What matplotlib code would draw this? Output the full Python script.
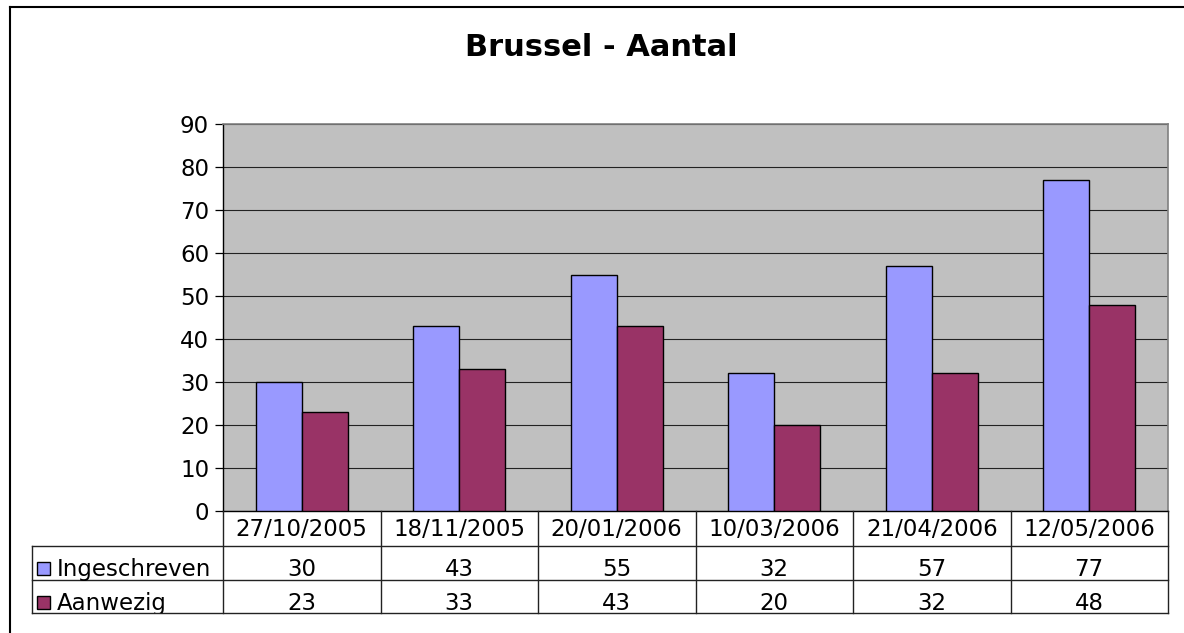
import matplotlib.pyplot as plt
from matplotlib.patches import Rectangle
from matplotlib.lines import Line2D
from matplotlib.transforms import blended_transform_factory, Bbox
import numpy as np

dates = ['27/10/2005', '18/11/2005', '20/01/2006', '10/03/2006', '21/04/2006', '12/05/2006']
ingeschreven = [30, 43, 55, 32, 57, 77]
aanwezig = [23, 33, 43, 20, 32, 48]
series_names = ['Ingeschreven', 'Aanwezig']
yticks = [0, 10, 20, 30, 40, 50, 60, 70, 80, 90]

blue = '#9999FF'
purple = '#993366'
fs = 16.5

W, H = 1184, 633
fig = plt.figure(figsize=(W / 100, H / 100), dpi=100)
fig.patch.set_facecolor('white')


def fy(py):
    # pixel row (from top) -> figure fraction
    return 1 - py / H


def fx(px):
    return px / W


left, right, top, bottom = 223, 1168, 124, 511
ax = fig.add_axes([fx(left), fy(bottom), (right - left) / W, (bottom - top) / H])
ax.set_facecolor('#C0C0C0')

x = np.arange(len(dates))
bw = 0.292
ax.bar(x - bw / 2, ingeschreven, bw, color=blue, edgecolor='black', linewidth=1.0, zorder=3)
ax.bar(x + bw / 2, aanwezig, bw, color=purple, edgecolor='black', linewidth=1.0, zorder=3)

ax.set_xlim(-0.5, len(dates) - 0.5)
ax.set_ylim(0, 90)
ax.set_yticks(yticks)
ax.set_yticklabels([str(v) for v in yticks], fontsize=fs)
ax.set_xticks([])
ax.yaxis.grid(True, color='#222222', linewidth=0.8, zorder=1)
ax.set_axisbelow(True)
ax.tick_params(axis='y', length=6, width=0.9, direction='out', pad=4, colors='black')
for side in ['top', 'right']:
    ax.spines[side].set_color('#808080')
    ax.spines[side].set_linewidth(1.2)
ax.spines['left'].set_color('black')
ax.spines['bottom'].set_color('black')
ax.spines['left'].set_linewidth(1.0)
ax.spines['bottom'].set_linewidth(1.0)

# data table below the plot
tr = blended_transform_factory(ax.transData, fig.transFigure)
row_y = [511, 546, 580, 613]
baselines = [536, 576, 610]
lc = '#222222'
for k in range(len(dates) + 1):
    fig.add_artist(Line2D([k - 0.5, k - 0.5], [fy(row_y[0]), fy(row_y[3])],
                          transform=tr, color=lc, linewidth=1.0))
fig.add_artist(Line2D([fx(32), fx(32)], [fy(row_y[1]), fy(row_y[3])], color=lc, linewidth=1.0))
for ry in row_y[1:]:
    fig.add_artist(Line2D([fx(32), fx(right)], [fy(ry), fy(ry)], color=lc, linewidth=1.0))

clip = Bbox([[0, H - row_y[3]], [W, H]])
for i, d in enumerate(dates):
    fig.text(i, fy(baselines[0]), d, transform=tr, ha='center', va='baseline', fontsize=fs)
    fig.text(i, fy(baselines[1]), str(ingeschreven[i]), transform=tr,
             ha='center', va='baseline', fontsize=fs)
    fig.text(i, fy(baselines[2]), str(aanwezig[i]), transform=tr,
             ha='center', va='baseline', fontsize=fs)

for name, col, bl in zip(series_names, [blue, purple], baselines[1:]):
    fig.add_artist(Rectangle((fx(37), fy(bl - 1)), 13 / W, 13 / H, facecolor=col,
                             edgecolor='black', linewidth=1.0))
    t = fig.text(fx(57), fy(bl), name, ha='left', va='baseline', fontsize=fs)
    t.set_clip_box(clip)
    t.set_clip_on(True)

# outer chart frame (cut off at right and bottom)
fig.add_artist(Line2D([fx(10), 1.0], [fy(7), fy(7)], color='black', linewidth=1.5))
fig.add_artist(Line2D([fx(10), fx(10)], [fy(7), 0.0], color='black', linewidth=1.5))

fig.text(fx(601), fy(48), 'Brussel - Aantal', ha='center', va='center',
         fontsize=22, fontweight='bold')

fig.savefig('out.png', dpi=100)
